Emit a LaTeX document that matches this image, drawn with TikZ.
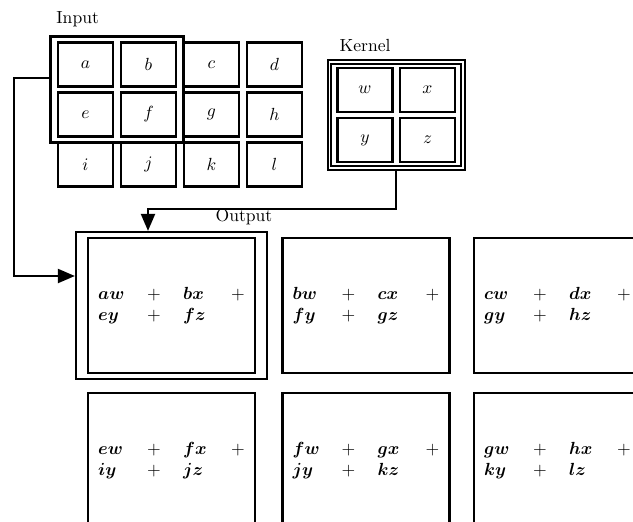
\documentclass[tikz,border=0pt]{standalone}
\usepackage{amsmath}
\usetikzlibrary{arrows.meta,fit,positioning}
\tikzset{
    conv diagram/.style = {>={Triangle[length=3.4mm,width=2.8mm]}},
    line/.style         = {very thick},
    cell/.style         = {draw, very thick, minimum width=1.1cm,
                           minimum height=0.88cm, inner sep=0pt},
    window/.style       = {draw, ultra thick, inner xsep=1.3mm,
                           inner ysep=1mm},
    kwindow/.style      = {window, very thick, double, double distance=0.9pt},
    outbox/.style       = {draw, very thick, minimum width=3.34cm,
                           minimum height=2.7cm, inner sep=0pt},
    title/.style        = {inner sep=0pt}
}
\newcommand{\convsum}[6]{%
    \node[outbox] (#1) at #2 {%
        \begin{tabular}{@{}p{0.98cm}@{}p{0.72cm}@{}p{0.96cm}@{}l@{}}
        $\boldsymbol{#3}$ & $+$ & $\boldsymbol{#4}$ & $+$\\
        $\boldsymbol{#5}$ & $+$ & $\boldsymbol{#6}$ &
        \end{tabular}};
}
\def\toprow{-6.11}
\def\botrow{-9.21}

\begin{document}
\begin{tikzpicture}[conv diagram]
\clip (0,0) rectangle (12.66,-10.44);

% Input grid and the window that the kernel covers.
\node[cell] (ia) at (1.71,-1.29) {$a$};
\node[cell] (ib) at (2.97,-1.29) {$b$};
\node[cell] (ic) at (4.23,-1.29) {$c$};
\node[cell] (id) at (5.49,-1.29) {$d$};
\node[cell] (ie) at (1.71,-2.29) {$e$};
\node[cell] (if) at (2.97,-2.29) {$f$};
\node[cell] (ig) at (4.23,-2.29) {$g$};
\node[cell] (ih) at (5.49,-2.29) {$h$};
\node[cell] (ii) at (1.71,-3.29) {$i$};
\node[cell] (ij) at (2.97,-3.29) {$j$};
\node[cell] (ik) at (4.23,-3.29) {$k$};
\node[cell] (il) at (5.49,-3.29) {$l$};
\node[window,fit=(ia) (if)] (inframe) {};
\node[title,above right=1.6mm and 1.4mm of inframe.north west] (inlbl) {Input};

% Kernel.
\node[cell] (kw) at (7.30,-1.80) {$w$};
\node[cell] (kx) at (8.55,-1.80) {$x$};
\node[cell] (ky) at (7.30,-2.80) {$y$};
\node[cell] (kz) at (8.55,-2.80) {$z$};
\node[kwindow,inner xsep=1.4mm,fit=(kw) (kz)] (kframe) {};
\node[title,above right=1.8mm and 2.2mm of kframe.north west] (klbl) {Kernel};

% Output: one weighted sum per kernel position.
\convsum{oa}{(3.43,\toprow)}{aw}{bx}{ey}{fz}
\convsum{ob}{(7.32,\toprow)}{bw}{cx}{fy}{gz}
\convsum{oc}{(11.15,\toprow)}{cw}{dx}{gy}{hz}
\convsum{oe}{(3.43,\botrow)}{ew}{fx}{iy}{jz}
\convsum{of}{(7.32,\botrow)}{fw}{gx}{jy}{kz}
\convsum{og}{(11.15,\botrow)}{gw}{hx}{ky}{lz}
\node[window,very thick,inner xsep=2.2mm,fit=(oa)] (outframe) {};
\node[title] (outlbl) at (4.88,-4.34) {Output};

\draw[->,line] ([yshift=2.3mm]inframe.west) -- ++(-0.7,0)
    |- ([yshift=5.9mm]outframe.west);
\draw[->,line] (kframe.south) -- ++(0,-0.8)
    -| ([xshift=-4.7mm]outframe.north);

\end{tikzpicture}
\end{document}
